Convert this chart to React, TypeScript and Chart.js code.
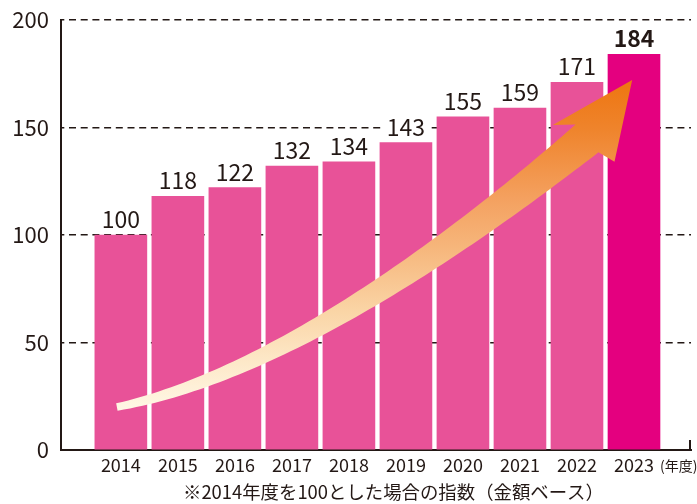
import React, { useEffect, useRef } from 'react';
import { Chart, registerables } from 'chart.js';

Chart.register(...registerables);

// ---- data ----
const years = ['2014', '2015', '2016', '2017', '2018', '2019', '2020', '2021', '2022', '2023'];
const indexValues = [100, 118, 122, 132, 134, 143, 155, 159, 171, 184];
const yTickValues = [0, 50, 100, 150, 200];
const footnote = '※2014年度を100とした場合の指数（金額ベース）';
const xUnitLabel = '(年度)';

// decorative trend arrow, in data units (x = category index, y = index value)
const arrowCurve = [
  [-0.07, 20.0],
  [2.787, 34.9],
  [6.116, 100.0],
  [8.176, 144.9],
];
const arrowHead = [
  [7.576, 151.2],
  [8.968, 172.1],
  [8.658, 134.1],
];

const TEXT = '#231815';
const PINK = '#E85298';
const MAGENTA = '#E4007F';
const FONT = "'Noto Sans CJK JP', 'Noto Sans', sans-serif";

const decorPlugin = {
  id: 'decor',
  beforeDatasetsDraw(chart: any) {
    const { ctx, chartArea } = chart;
    ctx.save();
    ctx.strokeStyle = TEXT;
    ctx.lineWidth = 2;
    ctx.beginPath();
    ctx.moveTo(chartArea.right - 1, chartArea.bottom - 10);
    ctx.lineTo(chartArea.right - 1, chartArea.bottom + 1);
    ctx.stroke();
    ctx.restore();
  },
  afterDatasetsDraw(chart: any) {
    const { ctx, scales } = chart;
    const xs = scales.x;
    const ys = scales.y;
    const px = (p: number[]) => [xs.getPixelForValue(p[0]), ys.getPixelForValue(p[1])];

    // ---- arrow ----
    const [P0, P1, P2, P3] = arrowCurve.map(px);
    const head = arrowHead.map(px);
    const N = 80;
    const w0 = 7.5;
    const w1 = 36;
    const upper: number[][] = [];
    const lower: number[][] = [];
    for (let i = 0; i <= N; i++) {
      const t = i / N;
      const mt = 1 - t;
      const bx = mt * mt * mt * P0[0] + 3 * mt * mt * t * P1[0] + 3 * mt * t * t * P2[0] + t * t * t * P3[0];
      const by = mt * mt * mt * P0[1] + 3 * mt * mt * t * P1[1] + 3 * mt * t * t * P2[1] + t * t * t * P3[1];
      const dx = 3 * mt * mt * (P1[0] - P0[0]) + 6 * mt * t * (P2[0] - P1[0]) + 3 * t * t * (P3[0] - P2[0]);
      const dy = 3 * mt * mt * (P1[1] - P0[1]) + 6 * mt * t * (P2[1] - P1[1]) + 3 * t * t * (P3[1] - P2[1]);
      const len = Math.hypot(dx, dy) || 1;
      const nx = dy / len;
      const ny = -dx / len;
      const w = (w0 + (w1 - w0) * t) / 2;
      upper.push([bx + nx * w, by + ny * w]);
      lower.push([bx - nx * w, by - ny * w]);
    }
    const grad = ctx.createLinearGradient(0, head[1][1], 0, P0[1] + 4);
    grad.addColorStop(0, '#EE7510');
    grad.addColorStop(0.15, '#EF842C');
    grad.addColorStop(0.36, '#F4A160');
    grad.addColorStop(0.5, '#F6B57A');
    grad.addColorStop(0.7, '#FAD5A6');
    grad.addColorStop(0.85, '#FDE8C8');
    grad.addColorStop(1, '#FFF8E6');
    ctx.save();
    ctx.fillStyle = grad;
    ctx.beginPath();
    ctx.moveTo(upper[0][0], upper[0][1]);
    for (let i = 1; i < upper.length; i++) ctx.lineTo(upper[i][0], upper[i][1]);
    ctx.lineTo(head[0][0], head[0][1]);
    ctx.lineTo(head[1][0], head[1][1]);
    ctx.lineTo(head[2][0], head[2][1]);
    for (let i = lower.length - 1; i >= 0; i--) ctx.lineTo(lower[i][0], lower[i][1]);
    ctx.closePath();
    ctx.fill();
    ctx.restore();

    // ---- value labels ----
    const meta = chart.getDatasetMeta(0);
    ctx.save();
    ctx.textAlign = 'center';
    ctx.textBaseline = 'alphabetic';
    meta.data.forEach((el: any, i: number) => {
      const last = i === indexValues.length - 1;
      ctx.font = `${last ? 'bold ' : ''}23px ${FONT}`;
      const txt = String(indexValues[i]);
      const tw = ctx.measureText(txt).width;
      const base = el.y - 7;
      ctx.fillStyle = '#ffffff';
      ctx.fillRect(el.x - tw / 2 - 3, base - 19, tw + 6, 21);
      ctx.fillStyle = TEXT;
      ctx.fillText(txt, el.x, base);
    });
    ctx.restore();
  },
  afterDraw(chart: any) {
    const { ctx, chartArea } = chart;
    ctx.save();
    ctx.fillStyle = TEXT;
    ctx.textBaseline = 'middle';
    ctx.font = `14px ${FONT}`;
    ctx.textAlign = 'left';
    ctx.fillText(xUnitLabel, chartArea.right - 31, chartArea.bottom + 16);
    ctx.font = `18.4px ${FONT}`;
    ctx.textAlign = 'left';
    ctx.fillText(footnote, 183, chartArea.bottom + 42);
    ctx.restore();
  },
};

export default function App() {
  const canvasRef = useRef<HTMLCanvasElement | null>(null);

  useEffect(() => {
    document.body.style.margin = '0';
    const canvas = canvasRef.current;
    if (!canvas) return;
    const chart = new Chart(canvas, {
      type: 'bar',
      data: {
        datasets: [
          {
            data: indexValues.map((v, i) => ({ x: i, y: v })),
            backgroundColor: indexValues.map((_, i) => (i === indexValues.length - 1 ? MAGENTA : PINK)),
            borderWidth: 0,
            barThickness: 52,
          },
        ],
      },
      options: {
        animation: false,
        responsive: false,
        maintainAspectRatio: false,
        layout: { padding: { top: 20, right: 6, left: 0, bottom: 0 } },
        plugins: {
          legend: { display: false },
          tooltip: { enabled: false },
          title: { display: false },
        },
        scales: {
          x: {
            type: 'linear',
            min: -1.05,
            max: 10,
            offset: false,
            afterBuildTicks: (scale: any) => {
              scale.ticks = years.map((_, i) => ({ value: i }));
            },
            afterFit: (scale: any) => {
              scale.height = 54;
              scale.paddingLeft = 0;
              scale.paddingRight = 0;
            },
            ticks: {
              autoSkip: false,
              maxRotation: 0,
              padding: 4,
              color: TEXT,
              font: { family: FONT, size: 18 },
              callback: (v: any) => years[v] ?? '',
            },
            grid: { display: false, drawTicks: false },
            border: { display: true, color: TEXT, width: 2 },
          },
          y: {
            min: 0,
            max: 200,
            afterBuildTicks: (scale: any) => {
              scale.ticks = yTickValues.map((v) => ({ value: v }));
            },
            afterFit: (scale: any) => {
              scale.width = 61;
              scale.paddingTop = 0;
              scale.paddingBottom = 0;
            },
            ticks: {
              padding: 12,
              color: TEXT,
              font: { family: FONT, size: 22 },
            },
            grid: {
              drawTicks: false,
              lineWidth: 1.6,
              color: (c: any) => (c.tick && c.tick.value === 0 ? 'rgba(0,0,0,0)' : TEXT),
            },
            border: { display: true, color: TEXT, width: 2, dash: [7, 4.7], dashOffset: 4.7 },
          },
        },
      },
      plugins: [decorPlugin],
    } as any);
    return () => chart.destroy();
  }, []);

  return (
    <div style={{ width: 697, height: 504, position: 'relative', background: '#ffffff' }}>
      <canvas ref={canvasRef} width={697} height={504} style={{ display: 'block', width: 697, height: 504 }} />
    </div>
  );
}
